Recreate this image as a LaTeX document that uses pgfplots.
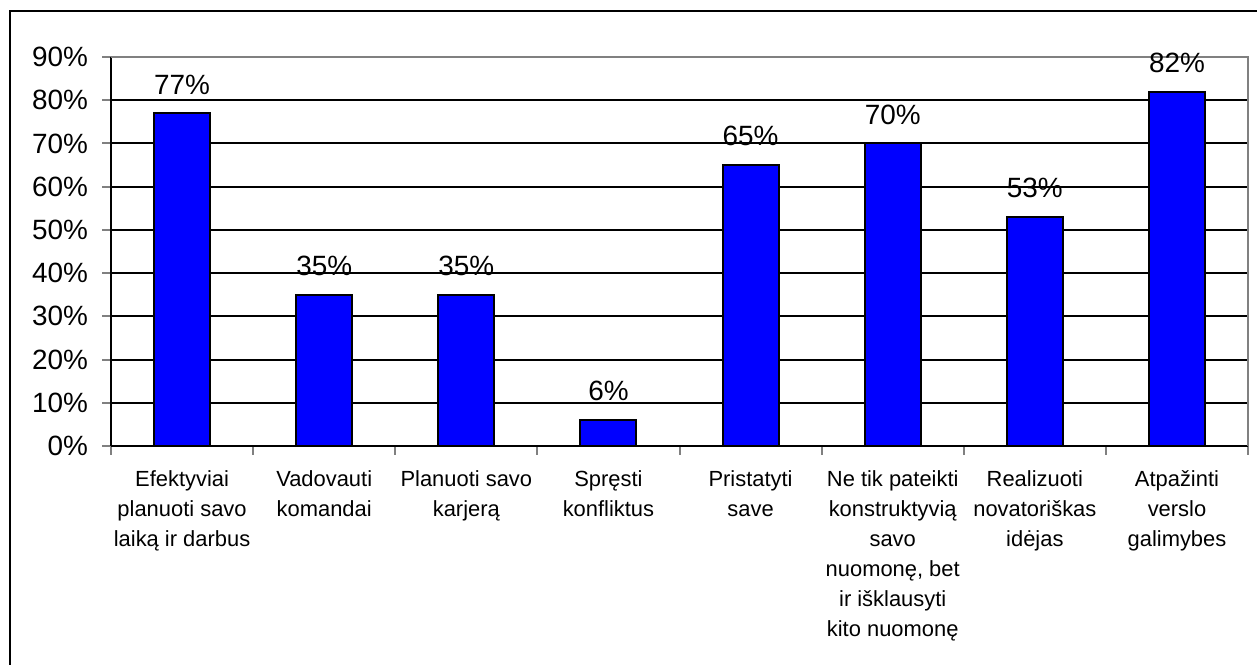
\documentclass[border=0pt]{standalone}
\usepackage{pgfplots}
\pgfplotsset{compat=1.18}
\usepackage{fontspec}
\setmainfont{Liberation Sans}

\begin{document}
\begin{tikzpicture}[x=0.5bp,y=0.5bp]
\useasboundingbox (0,0) rectangle (1257,664);
\draw[line width=1bp] (10,-20) rectangle (1280,653);
\begin{axis}[
    at={(55.5bp,109bp)}, anchor=south west,
    scale only axis,
    width=568.5bp, height=194.5bp,
    xmin=0, xmax=8,
    ymin=0, ymax=90,
    axis x line*=bottom,
    axis y line*=left,
    axis line style={line width=1bp, -},
    ytick={0,10,...,90},
    yticklabel={\pgfmathprintnumber{\tick}\%},
    yticklabel style={font=\fontsize{14}{16}\selectfont, xshift=-3.5bp},
    /pgf/number format/assume math mode=true,
    xtick={0.5,1.5,...,7.5},
    minor xtick={0,1,...,8},
    major x tick style={draw=none},
    minor x tick style={line width=1bp},
    y tick style={line width=1bp},
    tick align=outside,
    major tick length=4.5bp,
    minor tick length=4.5bp,
    xticklabels={
        {Efektyviai\\planuoti savo\\laiką ir darbus},
        {Vadovauti\\komandai},
        {Planuoti savo\\karjerą},
        {Spręsti\\konfliktus},
        {Pristatyti\\save},
        {Ne tik pateikti\\konstruktyvią\\savo\\nuomonę, bet\\ir išklausyti\\kito nuomonę},
        {Realizuoti\\novatoriškas\\idėjas},
        {Atpažinti\\verslo\\galimybes}},
    xticklabel style={font=\fontsize{11}{15}\selectfont, align=center, yshift=-4.5bp},
    ymajorgrids,
    grid style={black, line width=1bp},
    ybar, bar width=28bp,
    nodes near coords={\pgfmathprintnumber{\pgfplotspointmeta}\%},
    every node near coord/.append style={font=\fontsize{14}{16}\selectfont, inner sep=0pt, yshift=9bp},
    clip=false,
]
\addplot[fill=blue, draw=black, line width=1bp] coordinates {
    (0.5,77) (1.5,35) (2.5,35) (3.5,6) (4.5,65) (5.5,70) (6.5,53) (7.5,82)
};
\draw[gray, line width=1bp] (axis cs:0,90) -- (axis cs:8,90) -- (axis cs:8,0);
\end{axis}
\end{tikzpicture}
\end{document}
